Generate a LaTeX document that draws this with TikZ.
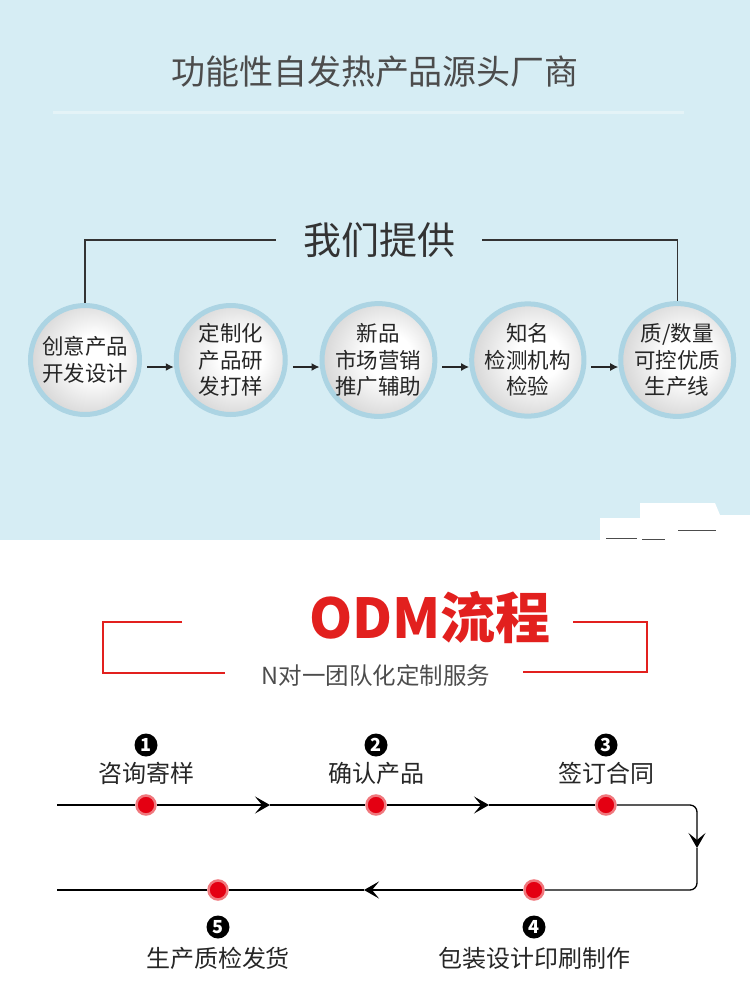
\documentclass[tikz,border=0pt]{standalone}
\usepackage{fontspec}
\setmainfont{Noto Sans CJK SC}
\usetikzlibrary{arrows.meta, positioning}

\definecolor{panelblue}{RGB}{214,237,244}
\definecolor{ringblue}{RGB}{172,212,227}
\definecolor{odmred}{RGB}{226,32,30}
\definecolor{dotred}{RGB}{228,0,18}
\definecolor{halored}{RGB}{240,120,125}

\pgfdeclareradialshading{silver}{\pgfpoint{6bp}{2bp}}{%
  color(0bp)=(white); color(10bp)=(white); color(28bp)=(gray!32); color(50bp)=(gray!66)}

\begin{document}
\begin{tikzpicture}[x=1pt, y=-1pt,
    disc/.style     ={circle, draw=ringblue, line width=5pt, shading=silver,
                      minimum size=109pt, inner sep=0pt, align=center, text=black!85,
                      font=\fontsize{21.5}{26.5}\selectfont},
    link/.style     ={-{Latex[length=8pt, width=8pt]}, line width=1.4pt, black!85},
    dot/.style      ={circle, fill=dotred, draw=halored, line width=2.5pt,
                      minimum size=19pt, inner sep=0pt},
    numdot/.style   ={circle, fill=black, text=white, inner sep=0pt, minimum size=23pt,
                      font=\fontsize{18}{18}\selectfont\bfseries},
    steplabel/.style={font=\fontsize{24}{24}\selectfont, text=black!85, inner sep=0pt},
    flow/.style     ={line width=1.3pt, black},
    chev/.style     ={flow, -{Stealth[length=15pt, width=17pt, inset=7pt]}}
  ]
  \useasboundingbox (0,0) rectangle (750,989);
  \fill[panelblue] (0,0) rectangle (750,540);
  \fill[white] (600,540) -- (600,518) -- (640,518) -- (640,503) -- (715,503)
               -- (720,515) -- (750,515) -- (750,540) -- cycle;
  \draw[black!70, line width=1pt] (606,538) -- (637,538) (642,539) -- (665,539)
                                  (678,530) -- (716,530);
  \draw[white, line width=3pt, opacity=.35] (53,112) -- (684,112);

  % top panel
  \node[font=\fontsize{34}{34}\selectfont, text=black!70] (maker) at (375,72)
       {功能性自发热产品源头厂商};
  \node[font=\fontsize{38}{38}\selectfont, text=black!80, inner xsep=27pt] (offer) at (379,240)
       {我们提供};

  \node[disc] (c1) at (85,360) {创意产品\\开发设计};
  \node[disc, right=31.75pt of c1] (c2) {定制化\\产品研\\发打样};
  \node[disc, right=31.75pt of c2] (c3) {新品\\市场营销\\推广辅助};
  \node[disc, right=31.75pt of c3] (c4) {知名\\检测机构\\检验};
  \node[disc, right=31.75pt of c4] (c5) {质/数量\\可控优质\\生产线};

  \draw[black!80, line width=1.1pt] (offer.west) -| (c1.north);
  \draw[black!80, line width=1.1pt] (offer.east) -| (c5.north);
  \foreach \a/\b in {c1/c2, c2/c3, c3/c4, c4/c5}
    \draw[link, shorten <=5pt] ([yshift=-7pt]\a.east) -- ([yshift=-7pt]\b.west);

  % ODM part
  \node[font=\fontsize{55}{55}\selectfont\bfseries, text=odmred, inner sep=0pt] (odm) at (430,618)
       {ODM流程};
  \node[font=\fontsize{23.5}{23.5}\selectfont, text=black!70, inner sep=0pt] (tagline) at (376,676)
       {N对一团队化定制服务};
  \draw[odmred, line width=1.3pt] (182,622) -- (103,622) -- (103,673) -- (225,673);
  \draw[odmred, line width=1.3pt] (573,622) -- (647,622) -- (647,672) -- (523,672);

  \node[dot] (d1) at (146,805) {};
  \node[dot] (d2) at (376,805) {};
  \node[dot] (d3) at (606,805) {};
  \node[dot] (d4) at (534,890) {};
  \node[dot] (d5) at (218,890) {};

  \node[steplabel, above=32pt of d1.center, anchor=center] (t1) {咨询寄样};
  \node[steplabel, above=32pt of d2.center, anchor=center] (t2) {确认产品};
  \node[steplabel, above=32pt of d3.center, anchor=center] (t3) {签订合同};
  \node[steplabel, below=68pt of d4.center, anchor=center] (t4) {包装设计印刷制作};
  \node[steplabel, below=68pt of d5.center, anchor=center] (t5) {生产质检发货};
  \node[numdot, above=60pt of d1.center, anchor=center] (n1) {1};
  \node[numdot, above=60pt of d2.center, anchor=center] (n2) {2};
  \node[numdot, above=60pt of d3.center, anchor=center] (n3) {3};
  \node[numdot, below=37pt of d4.center, anchor=center] (n4) {4};
  \node[numdot, below=37pt of d5.center, anchor=center] (n5) {5};

  \coordinate (s1) at (57,805);
  \coordinate (k1) at (697,805);
  \coordinate (a3) at (697,848);
  \coordinate (k2) at (697,890);
  \coordinate (e2) at (57,890);
  \coordinate (a1) at (270,805);
  \coordinate (a2) at (489,805);
  \coordinate (a4) at (364,890);

  \draw[flow] (s1) -- (d1);
  \draw[chev] (d1) -- (a1);
  \draw[flow] (a1) -- (d2);
  \draw[chev] (d2) -- (a2);
  \draw[flow] (a2) -- (d3);
  \draw[chev, rounded corners=7pt] (d3) -- (k1) -- (a3);
  \draw[flow, rounded corners=7pt] (a3) -- (k2) -- (d4);
  \draw[chev] (d4) -- (a4);
  \draw[flow] (a4) -- (d5) -- (e2);
\end{tikzpicture}
\end{document}
